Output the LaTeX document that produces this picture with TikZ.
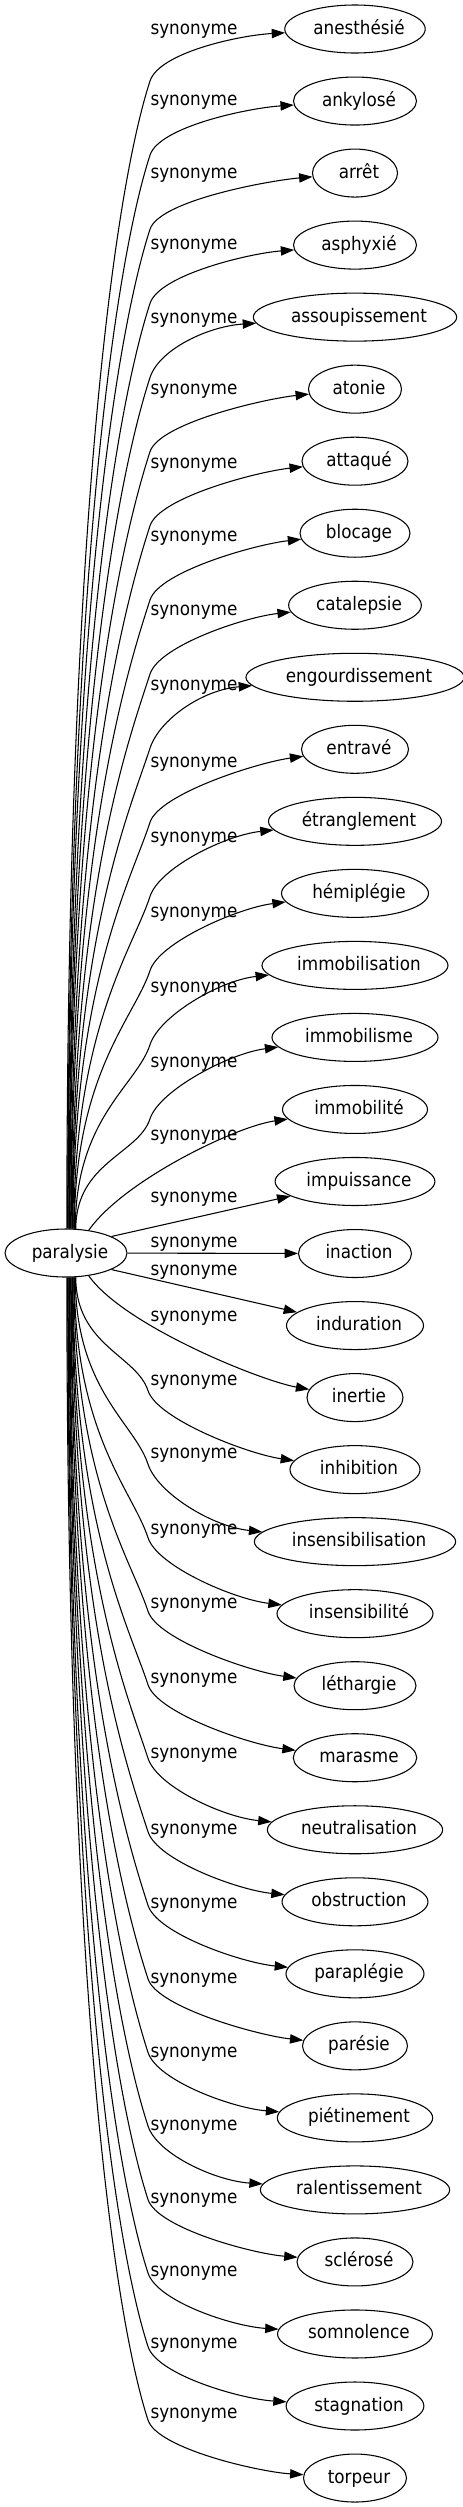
\documentclass[tikz,border=0pt]{standalone}
\usepackage{fontspec}
\setmainfont{DejaVu Sans Condensed}
\usetikzlibrary{arrows.meta,shapes.geometric,calc}
\tikzstyle{word}=[ellipse, draw=black, line width=0.8pt, minimum height=36pt, inner sep=0pt, text height=10pt, text depth=2.5pt, font=\fontsize{14pt}{16pt}\selectfont]
\tikzstyle{rel}=[inner sep=0pt, text height=10pt, text depth=2.5pt, font=\fontsize{14pt}{16pt}\selectfont]
\tikzstyle{l1}=[line width=0.8pt, -{Triangle[length=10pt,width=7pt]}]

\begin{document}
\begin{tikzpicture}[x=0.75pt,y=0.75pt]
    \useasboundingbox (0,0) rectangle (462,-2507);
    \node[word, minimum width=91.5pt] (par) at (66,-1253) {\kern6pt paralysie};

    \foreach \i/\w/\txt/\ly in {0/140/anesthésié/29, 1/123/ankylosé/100, 2/85/arrêt/173,
        3/123/asphyxié/244, 4/190/assoupissement/318, 5/93/atonie/389, 6/106/attaqué/463,
        7/110/blocage/536, 8/132/catalepsie/610, 9/205/engourdissement/685, 10/107/entravé/762,
        11/166/étranglement/837, 12/147/hémiplégie/912, 13/186/immobilisation/987,
        14/166/immobilisme/1062, 15/145/immobilité/1135, 16/156/impuissance/1197,
        17/113/inaction/1242, 18/137/induration/1270, 19/96/inertie/1316, 20/130/inhibition/1380,
        21/197/insensibilisation/1453, 22/156/insensibilité/1529, 23/122/léthargie/1603,
        24/122/marasme/1678, 25/170/neutralisation/1753, 26/145/obstruction/1829,
        27/138/paraplégie/1903, 28/105/parésie/1978, 29/152/piétinement/2052,
        30/178/ralentissement/2125, 31/116/sclérosé/2198, 32/153/somnolence/2271,
        33/137/stagnation/2343, 34/103/torpeur/2413} {
        \pgfmathsetmacro{\ty}{29+72.03*\i}
        \node[word, minimum width=\w*0.75pt] (w\i) at (355,-\ty) {\kern6pt\txt};
        \node[rel] (s\i) at (194,-\ly) {synonyme};
    }

    % upper fan
    \foreach \i in {0,...,14} {
        \pgfmathsetmacro{\ty}{29+72.03*\i}
        \pgfmathsetmacro{\ang}{88-1.4*\i}
        \pgfmathsetmacro{\py}{\ty+52+2.1*\i}
        \pgfmathsetmacro{\ca}{0.6*(1229-\py)}
        \pgfmathsetmacro{\cb}{0.08*(1229-\py)+28}
        \pgfmathsetmacro{\ea}{188+0.9*\i}
        \draw[l1] (par.\ang) .. controls +(90:\ca) and +(252:\cb) .. (150,-\py)
            .. controls +(72:30) and ($(w\i.west)+(\ea:45)$) .. (w\i);
    }

    % lower fan
    \foreach \i in {20,...,34} {
        \pgfmathsetmacro{\ty}{29+72.03*\i}
        \pgfmathsetmacro{\ang}{-88+1.4*(34-\i)}
        \pgfmathsetmacro{\py}{\ty-58-1.5*(34-\i)}
        \pgfmathsetmacro{\ca}{0.6*(\py-1277)}
        \pgfmathsetmacro{\cb}{0.08*(\py-1277)+28}
        \pgfmathsetmacro{\ea}{172-0.9*(34-\i)}
        \draw[l1] (par.\ang) .. controls +(-90:\ca) and +(108:\cb) .. (148,-\py)
            .. controls +(-72:30) and ($(w\i.west)+(\ea:45)$) .. (w\i);
    }

    % middle
    \draw[l1] (par.45) .. controls +(55:60) and ($(w15.west)+(200:50)$) .. (w15);
    \draw[l1] (par.20) -- (w16);
    \draw[l1] (par) -- (w17);
    \draw[l1] (par.-20) -- (w18);
    \draw[l1] (par.-45) .. controls +(-55:60) and ($(w19.west)+(160:50)$) .. (w19);
\end{tikzpicture}
\end{document}
